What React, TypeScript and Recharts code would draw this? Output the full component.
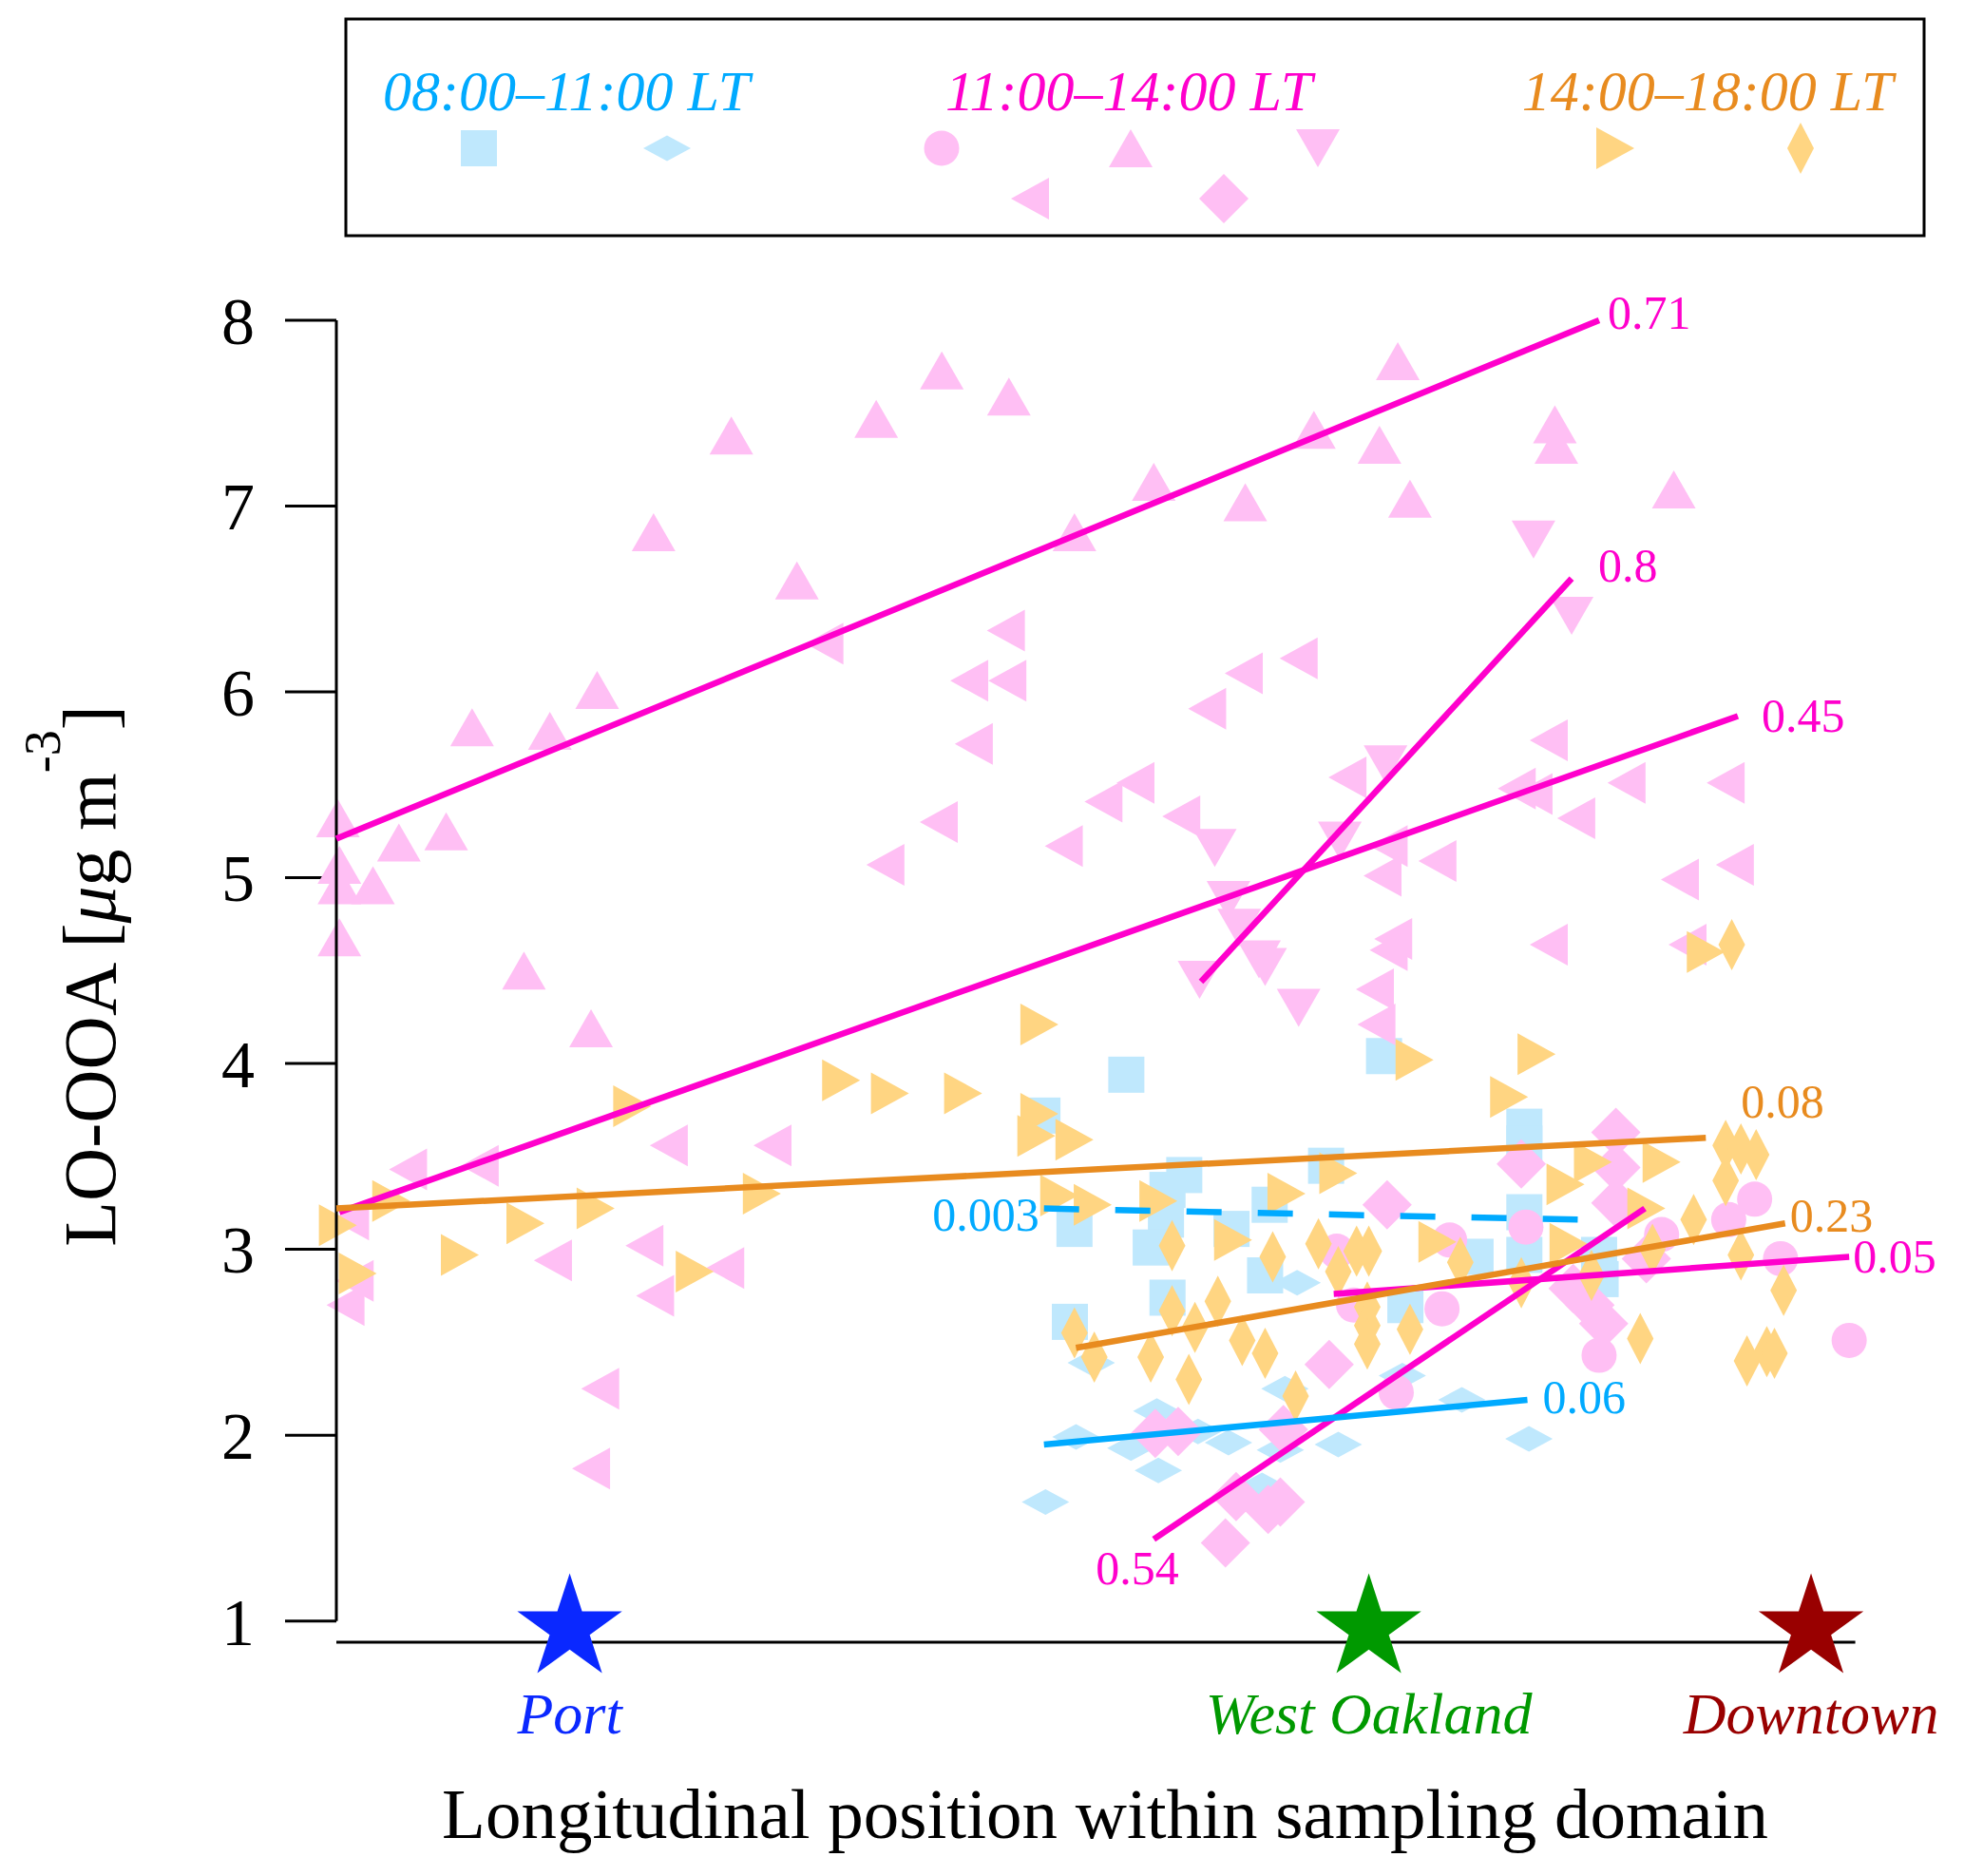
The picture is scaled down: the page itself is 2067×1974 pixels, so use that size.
import React from "react";
import { ScatterChart, Scatter, XAxis, YAxis } from "recharts";

const W = 2067;
const H = 1974;
const FONT = '"Liberation Serif", "DejaVu Serif", serif';

const BLUE_FILL = "#bfe8fd";
const PINK_FILL = "#ffbff4";
const ORANGE_FILL = "#ffd582";
const BLUE_LINE = "#00aaff";
const PINK_LINE = "#ff00cc";
const ORANGE_LINE = "#e88b1f";

// y axis ticks (LO-OOA, ug m-3)
const yTicks = [1, 2, 3, 4, 5, 6, 7, 8];

// x = longitudinal position (0 = west edge, 100 = east edge), y = LO-OOA
// 08:00-11:00 LT
const squares0811 = [
  [46.3, 3.72], [51.8, 3.94], [68.7, 4.04], [48.4, 3.11], [48.1, 2.61], [55.6, 3.4],
  [54.5, 3.32], [54.4, 3.16], [53.4, 3.01], [54.5, 2.74], [58.7, 3.11], [61.2, 3.24],
  [60.9, 2.86], [64.9, 3.45], [70.1, 2.7], [74.7, 2.96], [77.9, 3.66], [77.9, 3.57],
  [77.9, 3.2], [77.9, 2.97], [82.8, 2.97], [82.9, 2.84],
];
const diamonds0811 = [
  [46.5, 1.64], [48.5, 1.99], [49.5, 2.39], [52.1, 1.93], [53.8, 2.13], [53.9, 1.81],
  [56.5, 2.02], [58.5, 1.96], [60.7, 1.73], [61.9, 1.92], [62.2, 2.25], [63.0, 2.82],
  [65.7, 1.95], [69.9, 2.32], [73.8, 2.19], [78.2, 1.98],
];

// 11:00-14:00 LT
const circles1114 = [
  [65.6, 2.99], [66.7, 2.7], [69.5, 2.23], [72.5, 2.68], [73.0, 3.05], [78.0, 3.12],
  [82.8, 2.43], [86.9, 3.08], [91.3, 3.16], [93.0, 3.27], [94.7, 2.95], [99.2, 2.51],
];
const upTriangles1114 = [
  [0.1, 5.32], [0.2, 5.07], [0.2, 4.96], [2.4, 4.96], [0.2, 4.68], [4.1, 5.19],
  [7.2, 5.25], [8.9, 5.81], [14.0, 5.79], [12.3, 4.5], [17.1, 6.01], [16.7, 4.19],
  [20.8, 6.86], [25.9, 7.38], [30.2, 6.6], [35.4, 7.47], [39.7, 7.73], [44.1, 7.59],
  [48.4, 6.86], [53.6, 7.13], [59.6, 7.02], [64.1, 7.41], [68.4, 7.33], [69.6, 7.78],
  [70.4, 7.04], [79.9, 7.44], [80.0, 7.33], [87.7, 7.09],
];
const downTriangles1114 = [
  [78.5, 6.82], [81.0, 6.41], [68.8, 5.61], [57.6, 5.16], [65.8, 5.2], [58.5, 4.88],
  [59.2, 4.73], [60.5, 4.56], [60.9, 4.52], [56.6, 4.45], [63.1, 4.3],
];
const leftTriangles1114 = [
  [4.7, 3.43], [9.4, 3.45], [21.8, 3.56], [28.6, 3.56], [20.2, 3.02], [14.2, 2.94],
  [25.5, 2.9], [20.9, 2.75], [0.6, 2.7], [1.2, 2.83], [0.9, 3.16], [17.3, 2.25],
  [16.7, 1.82], [32.0, 6.26], [36.0, 5.07], [39.5, 5.3], [41.8, 5.72], [41.5, 6.06],
  [44.0, 6.06], [43.9, 6.33], [47.7, 5.17], [50.3, 5.41], [52.4, 5.51], [63.1, 6.18],
  [59.5, 6.1], [57.1, 5.91], [55.4, 5.33], [66.3, 5.54], [69.0, 5.17], [68.6, 5.01],
  [72.2, 5.09], [69.3, 4.67], [69.0, 4.61], [68.1, 4.4], [68.2, 4.21], [79.5, 5.74],
  [77.4, 5.48], [78.5, 5.45], [81.3, 5.32], [84.6, 5.51], [91.1, 5.51], [88.1, 4.99],
  [91.7, 5.07], [79.5, 4.64], [88.6, 4.64],
];
const diamonds1114 = [
  [53.7, 2.01], [55.2, 2.02], [62.1, 2.03], [59.0, 1.67], [61.1, 1.6], [61.9, 1.64],
  [58.3, 1.42], [65.1, 2.38], [68.9, 3.24], [77.7, 3.46], [83.9, 3.63], [83.9, 3.44],
  [83.9, 3.25], [85.9, 2.95], [81.1, 2.79], [82.2, 2.7], [83.1, 2.6],
];

// 14:00-18:00 LT
const rightTriangles1418 = [
  [0.1, 3.13], [1.4, 2.87], [3.6, 3.26], [8.1, 2.97], [12.4, 3.14], [17.0, 3.22],
  [19.4, 3.77], [27.9, 3.3], [23.5, 2.88], [33.1, 3.91], [36.3, 3.84], [41.1, 3.84],
  [46.1, 4.21], [46.1, 3.73], [45.9, 3.61], [48.4, 3.59], [47.4, 3.29], [49.6, 3.24],
  [53.9, 3.26], [58.8, 3.05], [62.3, 3.3], [65.7, 3.41], [70.7, 4.02], [78.7, 4.05],
  [76.9, 3.82], [72.2, 3.04], [80.6, 3.35], [80.8, 3.03], [82.4, 3.47], [86.9, 3.47],
  [85.9, 3.22], [89.8, 4.6],
];
const diamonds1418 = [
  [48.4, 2.55], [49.7, 2.42], [53.4, 2.42], [54.8, 3.02], [54.8, 2.67], [55.9, 2.3],
  [56.3, 2.58], [57.8, 2.72], [59.4, 2.51], [60.9, 2.44], [61.4, 2.96], [62.9, 2.21],
  [64.4, 3.03], [65.7, 2.88], [66.9, 2.99], [67.7, 2.99], [67.6, 2.69], [67.6, 2.59],
  [67.6, 2.49], [70.4, 2.57], [73.7, 2.93], [77.7, 2.82], [82.3, 2.86], [85.5, 2.52],
  [86.3, 3.0], [89.0, 3.16], [91.1, 3.56], [92.1, 3.54], [93.1, 3.51], [91.1, 3.37],
  [92.1, 2.97], [94.9, 2.78], [92.5, 2.4], [93.8, 2.45], [94.3, 2.44], [91.5, 4.64],
];

// linear fits, labelled with r^2
const fitLabels = ["0.71", "0.8", "0.45", "0.54", "0.05", "0.08", "0.23", "0.003", "0.06"];
const fitStarts = [[0, 5.21], [56.7, 4.44], [0.2, 3.2], [53.6, 1.44], [65.4, 2.76], [0, 3.22], [48.5, 2.47], [46.4, 3.22], [46.4, 1.95]];
const fitEnds = [[82.8, 8.0], [81.0, 6.61], [91.9, 5.87], [85.8, 3.22], [99.2, 2.96], [89.8, 3.6], [95.0, 3.14], [81.4, 3.16], [78.1, 2.19]];

// sampling-domain landmarks
const siteNames = ["Port", "West Oakland", "Downtown"];
const siteX = [15.3, 67.7, 96.7];
const SITE_Y = 0.96;

const pts = (arr: number[][]) => arr.map(([x, y]) => ({ x, y }));

// style per fit: colour, dashed, which end carries the label, label offset
const FIT_STYLE: Record<string, any> = {
  "0.71": { color: PINK_LINE, at: "end", dx: 9, dy: -8 },
  "0.8": { color: PINK_LINE, at: "end", dx: 28, dy: -14 },
  "0.45": { color: PINK_LINE, at: "end", dx: 25, dy: 0 },
  "0.54": { color: PINK_LINE, at: "start", dx: -61, dy: 30 },
  "0.05": { color: PINK_LINE, at: "end", dx: 4, dy: 0 },
  "0.08": { color: ORANGE_LINE, at: "end", dx: 37, dy: -38 },
  "0.23": { color: ORANGE_LINE, at: "end", dx: 5, dy: -8 },
  "0.003": { color: BLUE_LINE, at: "start", dx: -5, dy: 6, anchor: "end", dash: "37 38" },
  "0.06": { color: BLUE_LINE, at: "end", dx: 16, dy: -3 },
};
const SITE_COLORS = ["#0a28ff", "#009900", "#990000"];

function Marker({ kind, cx, cy, fill }: { kind: string; cx: number; cy: number; fill: string }) {
  const p = (list: number[][]) => (
    <polygon points={list.map(([a, b]) => `${cx + a},${cy + b}`).join(" ")} fill={fill} />
  );
  switch (kind) {
    case "square":
      return <rect x={cx - 19} y={cy - 19} width={38} height={38} fill={fill} />;
    case "circle":
      return <circle cx={cx} cy={cy} r={18.5} fill={fill} />;
    case "wideDiamond":
      return p([[-25, 0], [0, -13.5], [25, 0], [0, 13.5]]);
    case "diamond":
      return p([[0, -26], [26, 0], [0, 26], [-26, 0]]);
    case "thinDiamond":
      return p([[0, -27], [14, 0], [0, 27], [-14, 0]]);
    case "up":
      return p([[0, -20], [23, 20], [-23, 20]]);
    case "down":
      return p([[-23, -20], [23, -20], [0, 20]]);
    case "left":
      return p([[-20, 0], [20, -22], [20, 22]]);
    case "right":
      return p([[20, 0], [-20, -22], [-20, 22]]);
    default:
      return <g />;
  }
}

const SERIES = [
  { data: squares0811, kind: "square", fill: BLUE_FILL },
  { data: diamonds0811, kind: "wideDiamond", fill: BLUE_FILL },
  { data: circles1114, kind: "circle", fill: PINK_FILL },
  { data: upTriangles1114, kind: "up", fill: PINK_FILL },
  { data: downTriangles1114, kind: "down", fill: PINK_FILL },
  { data: leftTriangles1114, kind: "left", fill: PINK_FILL },
  { data: diamonds1114, kind: "diamond", fill: PINK_FILL },
  { data: rightTriangles1418, kind: "right", fill: ORANGE_FILL },
  { data: diamonds1418, kind: "thinDiamond", fill: ORANGE_FILL },
];

function starPath(cx: number, cy: number, R: number) {
  const r = R * 0.382;
  const out: string[] = [];
  for (let i = 0; i < 10; i++) {
    const a = -Math.PI / 2 + (i * Math.PI) / 5;
    const rad = i % 2 === 0 ? R : r;
    out.push(`${cx + rad * Math.cos(a)},${cy + rad * Math.sin(a)}`);
  }
  return "M" + out.join("L") + "Z";
}

const siteData = siteNames.map((name, i) => ({ x: siteX[i], y: SITE_Y, name, i }));

export default function App() {
  return (
    <div style={{ position: "absolute", left: 0, top: 0, width: W, height: H, background: "#fff" }}>
      <ScatterChart width={W} height={H} margin={{ top: 337, right: 108, bottom: 239, left: 214 }}>
        <XAxis type="number" dataKey="x" domain={[0, 100]} hide />
        <YAxis
          type="number"
          dataKey="y"
          domain={[0.85, 8]}
          ticks={yTicks}
          axisLine={false}
          tickLine={{ stroke: "#000", strokeWidth: 3 }}
          tickSize={54}
          tickMargin={32}
          width={140}
          tick={{ fontSize: 70, fill: "#000", fontFamily: FONT }}
        />

        {SERIES.map((s, i) => (
          <Scatter
            key={`series-${i}`}
            data={pts(s.data)}
            isAnimationActive={false}
            shape={(props: any) => <Marker kind={s.kind} cx={props.cx} cy={props.cy} fill={s.fill} />}
          />
        ))}

        {/* axis frame */}
        <Scatter
          data={[{ x: 0, y: 1 }, { x: 0, y: 8 }]}
          line={{ stroke: "#000", strokeWidth: 3 }}
          shape={() => <g />}
          isAnimationActive={false}
        />
        <Scatter
          data={[{ x: 0, y: 0.886 }, { x: 99.6, y: 0.886 }]}
          line={{ stroke: "#000", strokeWidth: 3 }}
          shape={() => <g />}
          isAnimationActive={false}
        />

        {/* fit lines */}
        {fitLabels.map((lab, i) => {
          const st = FIT_STYLE[lab];
          return (
            <Scatter
              key={`fit-${lab}`}
              data={[
                { x: fitStarts[i][0], y: fitStarts[i][1] },
                { x: fitEnds[i][0], y: fitEnds[i][1] },
              ]}
              line={{ stroke: st.color, strokeWidth: 6.5, strokeDasharray: st.dash }}
              shape={() => <g />}
              isAnimationActive={false}
            />
          );
        })}
        {fitLabels.map((lab, i) => {
          const st = FIT_STYLE[lab];
          const p = st.at === "start" ? fitStarts[i] : fitEnds[i];
          return (
            <Scatter
              key={`fitlabel-${lab}`}
              data={[{ x: p[0], y: p[1] }]}
              isAnimationActive={false}
              shape={(props: any) => (
                <text
                  x={props.cx + st.dx}
                  y={props.cy + st.dy}
                  fill={st.color}
                  fontSize={50}
                  fontFamily={FONT}
                  textAnchor={st.anchor || "start"}
                  dominantBaseline="central"
                >
                  {lab}
                </text>
              )}
            />
          );
        })}

        {/* sites */}
        <Scatter
          data={siteData}
          isAnimationActive={false}
          shape={(props: any) => {
            const c = SITE_COLORS[props.payload.i];
            return (
              <g>
                <path d={starPath(props.cx, props.cy, 58)} fill={c} />
                <text
                  x={props.cx}
                  y={props.cy + 111}
                  fill={c}
                  fontSize={62}
                  fontStyle="italic"
                  fontFamily={FONT}
                  textAnchor="middle"
                >
                  {props.payload.name}
                </text>
              </g>
            );
          }}
        />
      </ScatterChart>

      <svg
        width={W}
        height={H}
        style={{ position: "absolute", left: 0, top: 0, pointerEvents: "none" }}
      >
        {/* legend */}
        <rect x={364} y={20} width={1661} height={228} fill="none" stroke="#000" strokeWidth={3} />
        <g fontFamily={FONT} fontSize={60} fontStyle="italic" textAnchor="middle">
          <text x={596} y={116} fill={BLUE_LINE}>08:00–11:00 LT</text>
          <text x={1188} y={116} fill={PINK_LINE}>11:00–14:00 LT</text>
          <text x={1797} y={116} fill={ORANGE_LINE}>14:00–18:00 LT</text>
        </g>
        <Marker kind="square" cx={504} cy={156} fill={BLUE_FILL} />
        <Marker kind="wideDiamond" cx={702} cy={156} fill={BLUE_FILL} />
        <Marker kind="circle" cx={991} cy={156} fill={PINK_FILL} />
        <Marker kind="up" cx={1190} cy={156} fill={PINK_FILL} />
        <Marker kind="down" cx={1387} cy={156} fill={PINK_FILL} />
        <Marker kind="left" cx={1084} cy={209} fill={PINK_FILL} />
        <Marker kind="diamond" cx={1288} cy={209} fill={PINK_FILL} />
        <Marker kind="right" cx={1700} cy={156} fill={ORANGE_FILL} />
        <Marker kind="thinDiamond" cx={1895} cy={156} fill={ORANGE_FILL} />

        {/* axis titles */}
        <text x={1163} y={1934} fontFamily={FONT} fontSize={75} textAnchor="middle" fill="#000">
          Longitudinal position within sampling domain
        </text>
        <text
          x={121}
          y={1027}
          transform="rotate(-90 121 1027)"
          fontFamily={FONT}
          fontSize={78}
          textAnchor="middle"
          fill="#000"
        >
          LO-OOA [<tspan fontStyle="italic">μ</tspan>g m<tspan dy={-58} fontSize={54}>-3</tspan>
          <tspan dy={58}>]</tspan>
        </text>
      </svg>
    </div>
  );
}
